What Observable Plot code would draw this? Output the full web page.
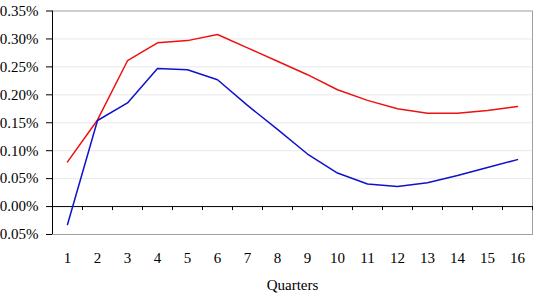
<!DOCTYPE html>
<html>
<head>
<meta charset="utf-8">
<script src="https://cdn.jsdelivr.net/npm/d3@7"></script>
<script src="https://cdn.jsdelivr.net/npm/@observablehq/plot@0.6"></script>
<style>
  html, body { margin: 0; padding: 0; background: #fff; }
</style>
</head>
<body>
<div id="chart"></div>
<script>
// Quarters after the shock
const quarters = [1, 2, 3, 4, 5, 6, 7, 8, 9, 10, 11, 12, 13, 14, 15, 16];

// Responses, in percent
const redSeries = [0.080, 0.155, 0.261, 0.293, 0.297, 0.308, 0.284, 0.260,
                   0.236, 0.209, 0.190, 0.175, 0.167, 0.167, 0.172, 0.179];
const blueSeries = [-0.032, 0.154, 0.1855, 0.247, 0.245, 0.227, 0.181, 0.138,
                    0.094, 0.060, 0.0405, 0.036, 0.0425, 0.0555, 0.070, 0.084];

// Y axis tick values (percent) and the labels printed beside them
const yTicks = [-0.05, 0, 0.05, 0.10, 0.15, 0.20, 0.25, 0.30, 0.35];
const yTickLabels = ["0.05%", "0.00%", "0.05%", "0.10%", "0.15%", "0.20%", "0.25%", "0.30%", "0.35%"];
const gridValues = [0.05, 0.10, 0.15, 0.20, 0.25, 0.30];

// Category boundaries on the x axis, where the small tick marks sit
const boundaries = quarters.map(q => q + 0.5);

const rows = quarters.flatMap((q, i) => [
  {quarter: q, value: redSeries[i], series: "red"},
  {quarter: q, value: blueSeries[i], series: "blue"}
]);

const chart = Plot.plot({
  width: 534,
  height: 300,
  marginLeft: 52,
  marginRight: 2,
  marginTop: 10.5,
  marginBottom: 66,
  style: {fontFamily: "'Liberation Serif', serif", fontSize: "15px", background: "#fff", color: "#000"},
  x: {domain: [0.5, 16.5]},
  y: {domain: [-0.05, 0.35]},
  marks: [
    Plot.ruleY(gridValues, {stroke: "#e8e8e8", strokeWidth: 1}),
    Plot.frame({stroke: "#a0a0a0", strokeWidth: 1}),
    Plot.ruleY([0], {stroke: "#000", strokeWidth: 1}),
    Plot.ruleX([0.5], {stroke: "#000", strokeWidth: 1}),
    Plot.ruleX(boundaries, {y1: 0, y2: 0, insetBottom: -4, stroke: "#000", strokeWidth: 1}),
    Plot.axisY({
      ticks: yTicks, tickSize: 6, tickPadding: 8, label: null,
      tickFormat: d => yTickLabels[yTicks.indexOf(d)]
    }),
    Plot.axisX({ticks: quarters, tickSize: 0, tickPadding: 18, label: null, tickFormat: d => String(d)}),
    Plot.text(["Quarters"], {frameAnchor: "bottom", dy: 50.5, lineAnchor: "middle", text: d => d, fontSize: 15}),
    Plot.line(rows, {
      x: "quarter", y: "value", z: "series",
      stroke: d => d.series === "red" ? "#ee1111" : "#1111cc",
      strokeWidth: 1.5
    })
  ]
});

document.getElementById("chart").append(chart);
</script>
</body>
</html>
